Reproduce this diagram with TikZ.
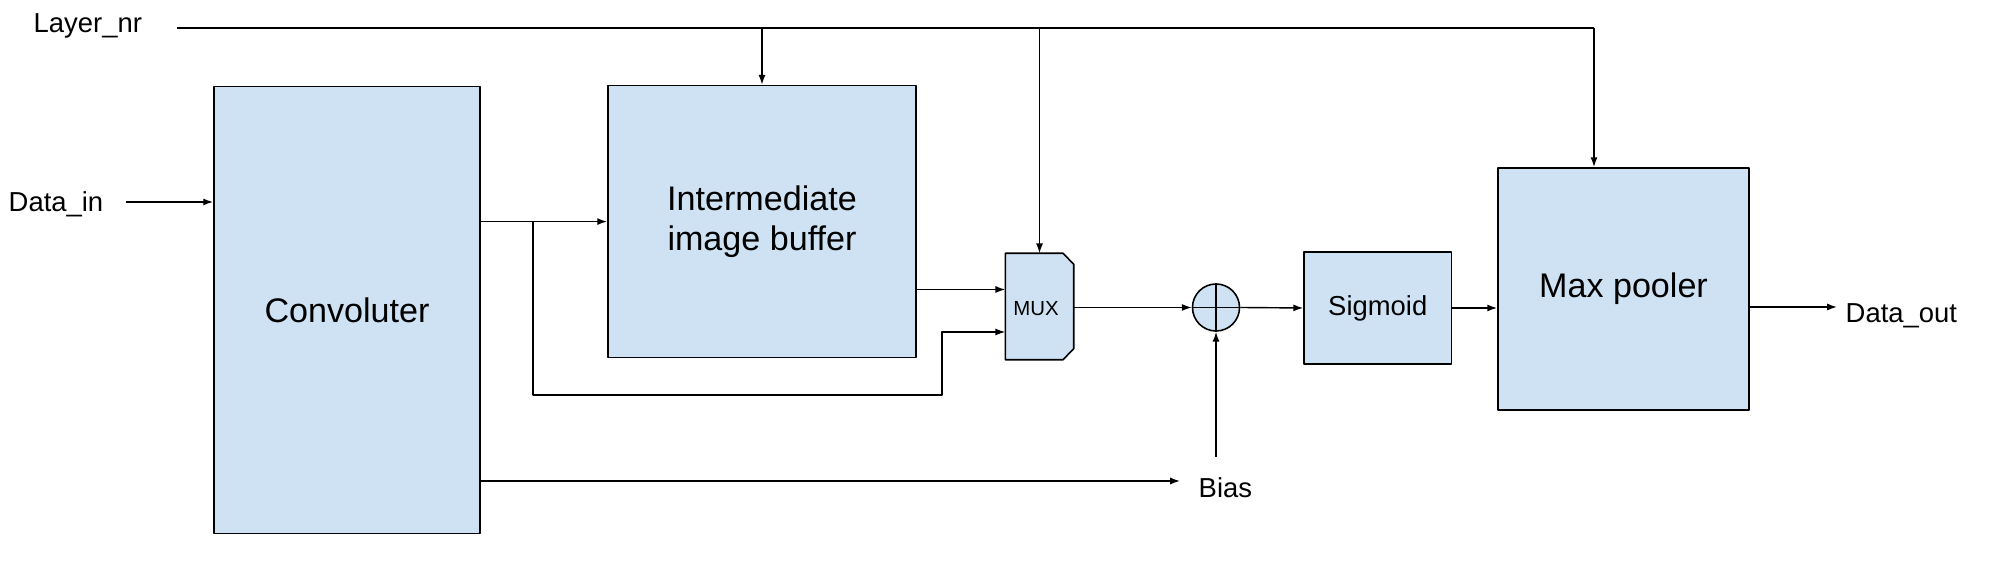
\documentclass[tikz,border=0pt]{standalone}
\usepackage{fontspec}
\setmainfont{Liberation Sans}
\usetikzlibrary{arrows.meta,calc}
\definecolor{boxblue}{HTML}{CFE2F3}
\tikzset{
	blk/.style={draw, fill=boxblue, line width=0.45pt, inner sep=0pt, align=center, font=\fontsize{9.7}{11.6}\selectfont},
	lbl/.style={inner sep=0pt, font=\fontsize{7.8}{9}\selectfont},
	arr/.style={-{Latex[length=2.8pt,width=2pt]}},
}
\begin{document}
\begin{tikzpicture}[x=0.01cm, y=-0.01cm, line join=round, line width=0.4pt]
		\useasboundingbox (0,0) rectangle (2000,571);
		% blocks
		\node[blk, minimum width=2.66cm, minimum height=4.465cm] (conv) at (347,310) {Convoluter};
		\node[blk, minimum width=3.08cm, minimum height=2.72cm] (ibuf) at (762,221.6) {Intermediate\\image buffer};
		\node[minimum width=0.67cm, minimum height=1.05cm, inner sep=0pt] (mux) at (1039.5,306.5) {};
		\draw[fill=boxblue, line width=0.45pt] (mux.north west) -- ([xshift=-0.107cm]mux.north east) -- ([yshift=-0.11cm]mux.north east)
			-- ([yshift=0.11cm]mux.south east) -- ([xshift=-0.107cm]mux.south east) -- (mux.south west) -- cycle;
		\node[inner sep=0pt, font=\fontsize{5.8}{7}\selectfont] (mux-t) at (1036,309) {MUX};
		\node[blk, circle, minimum size=0.47cm] (add) at (1216,307.5) {};
		\node[blk, minimum width=1.475cm, minimum height=1.12cm, font=\fontsize{7.8}{9}\selectfont] (sig) at (1377.75,308) {Sigmoid};
		\node[blk, minimum width=2.51cm, minimum height=2.42cm] (mpool) at (1623.5,289) {Max pooler};
		% labels
		\node[lbl, anchor=west] (lnr) at (33,26) {Layer\_nr};
		\node[lbl, anchor=west] (din) at (8,204) {Data\_in};
		\node[lbl, anchor=west] (dout) at (1845,316) {Data\_out};
		\node[lbl, anchor=west] (bias) at (1198,488) {Bias};
		\path
			(177,28) coordinate (lnr-s)
			(1594,28) coordinate (lnr-e)
			(126,202) coordinate (din-s)
			(533,221.6) coordinate (split)
			(942,395) coordinate (bend)
			(1180,481) coordinate (bias-e)
			(1216,457) coordinate (bias-s)
			(1837,307) coordinate (dout-e)
			(mux.west |- 0,289.5) coordinate (mi1)
			(mux.west |- 0,332) coordinate (mi2)
		;
		% connectors
		\draw (lnr-s) -- (lnr-e);
		\draw[arr] (lnr-e) -- (lnr-e |- mpool.north);
		\foreach \n in {ibuf,mux}{
			\draw[arr] (\n.north |- lnr-s) -- (\n.north);
		}
		\draw[arr] (din-s) -- (din-s -| conv.west);
		\draw[arr] (conv.east |- ibuf.west) -- (ibuf.west);
		\draw[arr] (split) |- (bend) |- (mi2);
		\draw[arr] (ibuf.east |- mi1) -- (mi1);
		\draw[arr] (conv.east |- bias-e) -- (bias-e);
		\draw[arr] (mux.east |- add.west) -- (add.west);
		\draw[arr] (add.east) -- (sig.west);
		\draw[arr] (sig.east) -- (sig.east -| mpool.west);
		\draw[arr] (mpool.east |- dout-e) -- (dout-e);
		\draw[arr] (bias-s) -- (add.south);
		\draw (add.north) -- (add.south) (add.west) -- (add.east);
\end{tikzpicture}
\end{document}
